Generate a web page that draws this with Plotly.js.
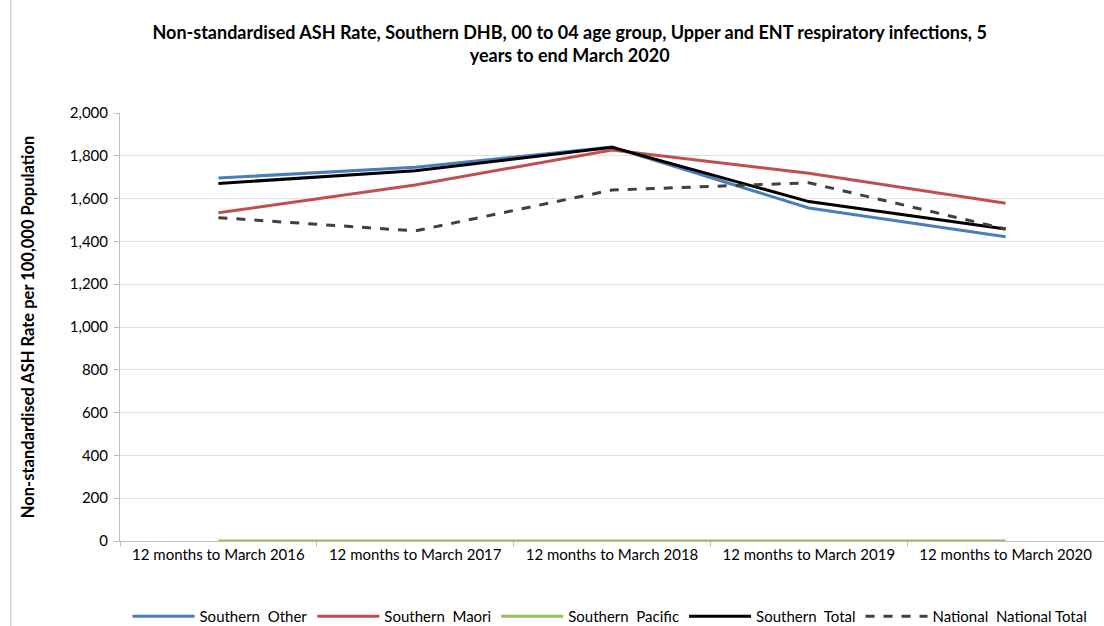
<!DOCTYPE html>
<html>
<head>
<meta charset="utf-8">
<script src="https://cdn.plot.ly/plotly-3.0.1.min.js"></script>
<style>html,body{margin:0;padding:0;background:#fff;}#chart{width:1104px;height:626px;}</style>
</head>
<body>
<div id="chart"></div>
<script>
const categories = ["12 months to March 2016","12 months to March 2017","12 months to March 2018","12 months to March 2019","12 months to March 2020"];
const southernOther = [1696, 1746, 1841, 1556, 1422];
const southernMaori = [1534, 1664, 1827, 1718, 1578];
const southernPacific = [0, 0, 0, 0, 0];
const southernTotal = [1671, 1730, 1840, 1586, 1458];
const nationalTotal = [1511, 1449, 1640, 1674, 1458];
const yTicks = [0,200,400,600,800,1000,1200,1400,1600,1800,2000];

const font = "Lato, 'Open Sans', sans-serif";
const mk = (name, y, color, dash) => ({
  type: 'scatter', mode: 'lines', name: name, x: categories, y: y,
  line: {color: color, width: 3, dash: dash || 'solid'}
});
const data = [
  mk("Southern  Other", southernOther, "#4a7ebb"),
  mk("Southern  Maori", southernMaori, "#c0504d"),
  mk("Southern  Pacific", southernPacific, "#9bbb59"),
  mk("Southern  Total", southernTotal, "#000000"),
  mk("National  National Total", nationalTotal, "#404040", "dash")
];
const layout = {
  width: 1104, height: 626,
  margin: {l: 120, r: 0, t: 113, b: 85},
  paper_bgcolor: '#fff', plot_bgcolor: '#fff',
  font: {family: font, size: 15, color: '#000'},
  title: {text: "<b>Non-standardised ASH Rate, Southern DHB, 00 to 04 age group, Upper and ENT respiratory infections, 5<br>years to end March 2020</b>",
          x: 0.516, xanchor: 'center', y: 0.938, yanchor: 'top', font: {size: 18, family: font}},
  xaxis: {type: 'category', tickson: 'boundaries', ticks: 'outside', ticklen: 5, tickcolor: '#bfbfbf',
          showline: true, linecolor: '#bfbfbf', showgrid: false, range: [-0.5, 4.5],
          tickfont: {size: 15}, automargin: false},
  yaxis: {range: [0, 2000], tickvals: yTicks, ticktext: yTicks.map(v => v.toLocaleString('en-US')),
          ticks: 'outside', ticklen: 5, tickcolor: '#bfbfbf', showline: true, linecolor: '#bfbfbf',
          gridcolor: '#e0e0e0', zeroline: false, tickfont: {size: 15}, automargin: false,
          ticklabelstandoff: 3,
          title: {text: "<b>Non-standardised ASH Rate per 100,000 Population</b>", font: {size: 16.5}, standoff: 31}},
  legend: {orientation: 'h', x: 0.498, xanchor: 'center', yref: 'container', y: 0.015, yanchor: 'middle',
           font: {size: 15}, traceorder: 'normal', itemwidth: 62},
  shapes: [{type: 'line', xref: 'paper', yref: 'paper', x0: -0.111, x1: -0.111, y0: -0.2, y1: 1.27,
            line: {color: '#bfbfbf', width: 1}}],
  showlegend: true
};
Plotly.newPlot('chart', data, layout, {displayModeBar: false});
</script>
</body>
</html>
